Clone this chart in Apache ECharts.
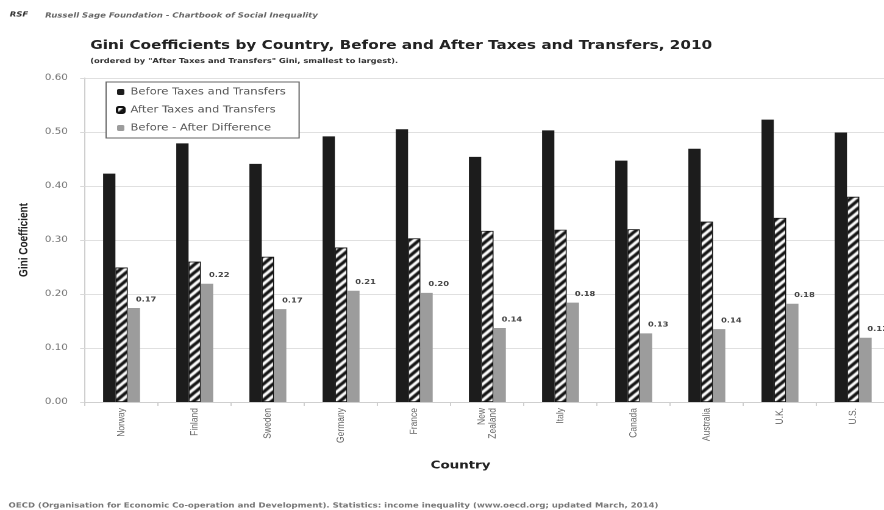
<!DOCTYPE html>
<html>
<head>
<meta charset="utf-8">
<script src="https://cdn.jsdelivr.net/npm/echarts@6/dist/echarts.min.js"></script>
<style>
html,body{margin:0;padding:0;background:#fff;overflow:hidden;width:884px;height:510px;}
#c{width:740px;height:510px;transform:scaleX(1.2193);transform-origin:0 0;}
</style>
</head>
<body>
<div id="c"></div>
<script>
var countries = ["Norway","Finland","Sweden","Germany","France","New\nZealand","Italy","Canada","Australia","U.K.","U.S."];
var beforeTax = [0.423,0.479,0.441,0.492,0.505,0.454,0.503,0.447,0.469,0.523,0.499];
var afterTax = [0.249,0.260,0.269,0.286,0.303,0.317,0.319,0.320,0.334,0.341,0.380];
var difference = [0.174,0.219,0.172,0.206,0.202,0.137,0.184,0.127,0.135,0.182,0.119];
var yTicks = [0,0.1,0.2,0.3,0.4,0.5,0.6];

var cv = document.createElement('canvas');
var s = 8; cv.width = s; cv.height = s;
var cx = cv.getContext('2d');
cx.fillStyle = '#fff'; cx.fillRect(0,0,s,s);
cx.strokeStyle = '#111'; cx.lineWidth = 3;
cx.beginPath();
cx.moveTo(0,s); cx.lineTo(s,0);
cx.moveTo(-2,2); cx.lineTo(2,-2);
cx.moveTo(s-2,s+2); cx.lineTo(s+2,s-2);
cx.stroke();
var hatch = {image: cv, repeat: 'repeat'};

var chart = echarts.init(document.getElementById('c'), null, {renderer:'canvas', devicePixelRatio: 2});
chart.setOption({
  animation: false,
  backgroundColor: '#fff',
  graphic: [
    {type:'text', left: 8, top: 11, style:{text:'RSF', font:'italic bold 7px "DejaVu Sans"', fill:'#333'}},
    {type:'text', left: 37, top: 12, style:{text:'Russell Sage Foundation - Chartbook of Social Inequality', font:'italic bold 7px "DejaVu Sans"', fill:'#666'}},
    {type:'text', left: 74, top: 39, style:{text:'Gini Coefficients by Country, Before and After Taxes and Transfers, 2010', font:'bold 12.5px "DejaVu Sans"', fill:'#222'}},
    {type:'text', left: 74, top: 57.5, style:{text:'(ordered by "After Taxes and Transfers" Gini, smallest to largest).', font:'bold 6.8px "DejaVu Sans"', fill:'#333'}},
    {type:'text', left: 7, top: 502, style:{text:'OECD (Organisation for Economic Co-operation and Development). Statistics: income inequality (www.oecd.org; updated March, 2014)', font:'bold 7px "DejaVu Sans"', fill:'#777'}}
  ],
  legend: {
    orient: 'vertical', left: 87, top: 82,
    padding: [4, 11, 4, 8],
    itemWidth: 6, itemHeight: 6, itemGap: 6,
    backgroundColor: '#fff', borderColor: '#666', borderWidth: 1,
    textStyle: {fontFamily:'DejaVu Sans', fontSize: 9.5, color:'#555', lineHeight: 12},
    data: ['Before Taxes and Transfers','After Taxes and Transfers','Before - After Difference']
  },
  grid: {left: 69.7, right: 10.3, top: 78, bottom: 108, containLabel: false},
  xAxis: {
    type: 'category', data: countries,
    name: 'Country', nameLocation: 'middle', nameGap: 58,
    nameTextStyle: {fontFamily:'DejaVu Sans', fontWeight:'bold', fontSize: 11, color:'#222', padding:[0,44,0,0]},
    axisLine: {lineStyle:{color:'#cfcfcf'}},
    axisTick: {show:true, length: 4, lineStyle:{color:'#cfcfcf'}},
    axisLabel: {rotate: 90, fontFamily:'Liberation Sans', fontSize: 8.5, color:'#666', lineHeight: 9, margin: 6}
  },
  yAxis: {
    type: 'value', min: yTicks[0], max: yTicks[yTicks.length-1], interval: 0.1,
    name: 'Gini Coefficient', nameLocation: 'middle', nameGap: 45, nameRotate: 90,
    nameTextStyle: {fontFamily:'Liberation Sans', fontWeight:'bold', fontSize: 10, color:'#222'},
    axisLine: {show:true, lineStyle:{color:'#cfcfcf'}},
    axisTick: {show:true, length: 4, lineStyle:{color:'#d9d9d9'}},
    splitLine: {lineStyle:{color:'#e0e0e0'}},
    axisLabel: {fontFamily:'DejaVu Sans', fontSize: 8.5, color:'#777', margin: 14,
      formatter: function(v){ return v.toFixed(2); }}
  },
  series: [
    {name:'Before Taxes and Transfers', type:'bar', data: beforeTax, barWidth: 10.1, barGap: '0%',
      itemStyle:{color:'#1c1c1c'}},
    {name:'After Taxes and Transfers', type:'bar', data: afterTax, barWidth: 10.1, barGap: '0%',
      itemStyle:{color: hatch, borderColor:'#111', borderWidth: 0.8}},
    {name:'Before - After Difference', type:'bar', data: difference, barWidth: 10.1, barGap: '0%',
      itemStyle:{color:'#9c9c9c'},
      label:{show:true, position:'top', offset:[10, 0], fontFamily:'DejaVu Sans', fontWeight:'bold', fontSize: 6.8, color:'#444',
        formatter: function(p){ return p.value.toFixed(2); }}}
  ]
});
</script>
</body>
</html>
